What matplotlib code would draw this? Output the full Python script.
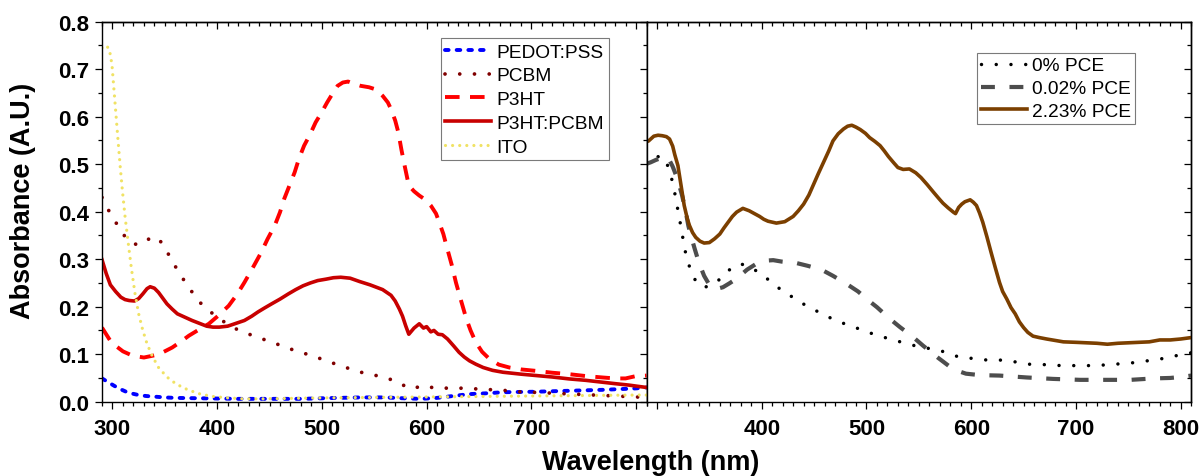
import matplotlib
matplotlib.use("Agg")
import matplotlib.pyplot as plt
from matplotlib.ticker import MultipleLocator, FuncFormatter

plt.rcParams['font.family'] = ['Liberation Sans', 'DejaVu Sans']
plt.rcParams['font.weight'] = 'bold'
plt.rcParams['lines.scale_dashes'] = False

# ---------------- Left panel: individual layers ----------------
pedot_wl = [290, 296, 302, 308, 313, 319, 325, 332, 338, 350, 360, 375, 390, 405, 420,
            440, 460, 480, 505, 537, 560, 580, 595, 610, 625, 641, 660, 673, 704, 736,
            768, 790, 800, 810]
pedot_abs = [0.049, 0.041, 0.033, 0.026, 0.021, 0.017, 0.014, 0.012, 0.011, 0.009, 0.008,
             0.0075, 0.007, 0.0065, 0.006, 0.006, 0.006, 0.006, 0.0075, 0.009, 0.009, 0.007,
             0.006, 0.008, 0.012, 0.016, 0.018, 0.020, 0.021, 0.023, 0.025, 0.027, 0.028, 0.030]

pcbm_wl = [290, 297, 305, 313, 319, 326, 332, 338, 343, 348, 356, 364, 373, 383, 393, 404,
           414, 428, 442, 454, 467, 480, 493, 507, 520, 533, 539, 552, 563, 575, 581, 586,
           592, 598, 605, 611, 625, 639, 655, 673, 687, 700, 720, 740, 760, 780, 800, 810]
pcbm_abs = [0.430, 0.400, 0.371, 0.344, 0.333, 0.330, 0.338, 0.348, 0.343, 0.333, 0.300,
            0.270, 0.240, 0.210, 0.190, 0.172, 0.157, 0.144, 0.133, 0.124, 0.113, 0.104,
            0.095, 0.084, 0.074, 0.065, 0.061, 0.055, 0.049, 0.039, 0.030, 0.027, 0.031,
            0.034, 0.030, 0.028, 0.029, 0.028, 0.026, 0.024, 0.021, 0.020, 0.018, 0.016,
            0.014, 0.012, 0.010, 0.009]

p3ht_wl = [290, 298, 304, 310, 319, 330, 341, 349, 357, 365, 373, 382, 392, 401, 411, 419,
           426, 434, 442, 448, 455, 460, 464, 469, 474, 478, 483, 489, 494, 500, 505, 510,
           515, 520, 525, 531, 537, 545, 552, 558, 563, 566, 570, 573, 576, 579, 583, 588,
           593, 599, 604, 609, 612, 616, 619, 624, 628, 633, 638, 642, 647, 653, 660, 669,
           679, 690, 704, 720, 736, 752, 768, 780, 790, 800, 810]
p3ht_abs = [0.156, 0.128, 0.116, 0.106, 0.097, 0.093, 0.098, 0.105, 0.114, 0.126, 0.139,
            0.151, 0.164, 0.181, 0.202, 0.226, 0.251, 0.282, 0.314, 0.342, 0.371, 0.399,
            0.427, 0.455, 0.483, 0.511, 0.539, 0.564, 0.588, 0.610, 0.630, 0.648, 0.665,
            0.672, 0.674, 0.669, 0.665, 0.662, 0.657, 0.644, 0.630, 0.616, 0.592, 0.567,
            0.530, 0.497, 0.455, 0.443, 0.434, 0.425, 0.413, 0.396, 0.378, 0.353, 0.328,
            0.288, 0.251, 0.212, 0.174, 0.150, 0.125, 0.105, 0.090, 0.078, 0.072, 0.068,
            0.065, 0.061, 0.058, 0.054, 0.051, 0.049, 0.049, 0.054, 0.055]

blend_wl = [290, 294, 298, 303, 308, 312, 316, 321, 325, 329, 333, 336, 340, 344, 348, 352,
            357, 362, 369, 376, 383, 390, 396, 402, 410, 418, 426, 433, 439, 445, 452, 460,
            468, 475, 482, 489, 496, 504, 511, 518, 527, 536, 546, 558, 566, 570, 574, 577,
            580, 583, 588, 593, 597, 600, 604, 607, 611, 615, 620, 626, 631, 636, 641, 647,
            654, 663, 673, 690, 705, 720, 736, 752, 768, 780, 793, 803, 810]
blend_abs = [0.299, 0.270, 0.246, 0.232, 0.220, 0.215, 0.213, 0.212, 0.217, 0.227, 0.238,
             0.242, 0.239, 0.230, 0.218, 0.206, 0.195, 0.185, 0.178, 0.171, 0.165, 0.159,
             0.157, 0.157, 0.159, 0.165, 0.171, 0.180, 0.189, 0.197, 0.206, 0.216, 0.227,
             0.236, 0.244, 0.250, 0.255, 0.258, 0.261, 0.262, 0.260, 0.253, 0.246, 0.236,
             0.224, 0.212, 0.195, 0.180, 0.160, 0.142, 0.155, 0.164, 0.155, 0.158, 0.147,
             0.150, 0.142, 0.141, 0.132, 0.117, 0.104, 0.094, 0.086, 0.079, 0.072, 0.066,
             0.062, 0.058, 0.055, 0.052, 0.048, 0.045, 0.041, 0.038, 0.035, 0.032, 0.030]

ito_wl = [290, 294, 297, 299.5, 301.5, 303.5, 305.5, 307.5, 309.5, 312, 315, 318, 321.5,
          325, 329, 333, 338, 344, 352, 361, 372, 384, 396, 410, 426, 442, 470, 500, 550,
          600, 650, 700, 750, 800, 810]
ito_abs = [0.745, 0.750, 0.742, 0.710, 0.655, 0.600, 0.545, 0.492, 0.444, 0.390, 0.335,
           0.282, 0.228, 0.185, 0.150, 0.122, 0.096, 0.072, 0.052, 0.037, 0.025, 0.016,
           0.011, 0.008, 0.006, 0.006, 0.007, 0.008, 0.009, 0.010, 0.011, 0.012, 0.013,
           0.014, 0.014]

# ---------------- Right panel: devices by efficiency ----------------
pce0_wl = [289, 296, 303, 308, 312, 316, 319, 322, 325, 328, 333, 338, 342, 348, 354, 360,
           365, 372, 378, 385, 393, 402, 413, 426, 437, 448, 461, 474, 486, 498, 511, 526,
           540, 554, 569, 582, 591, 602, 613, 626, 639, 654, 670, 686, 699, 712, 725, 737,
           751, 764, 776, 790, 800, 810]
pce0_abs = [0.500, 0.510, 0.518, 0.508, 0.488, 0.451, 0.415, 0.379, 0.341, 0.305, 0.271,
            0.250, 0.242, 0.242, 0.247, 0.258, 0.271, 0.282, 0.290, 0.288, 0.278, 0.265,
            0.244, 0.225, 0.209, 0.196, 0.181, 0.168, 0.159, 0.149, 0.139, 0.130, 0.121,
            0.114, 0.109, 0.098, 0.093, 0.091, 0.088, 0.088, 0.085, 0.079, 0.078, 0.076,
            0.076, 0.076, 0.077, 0.079, 0.081, 0.085, 0.088, 0.094, 0.099, 0.103]

pce002_wl = [289, 294, 299, 304, 309, 312, 315, 318, 321, 324, 327, 330, 333, 336, 340, 345,
             350, 354, 358, 363, 369, 376, 386, 396, 404, 411, 419, 433, 444, 457, 468, 481,
             492, 502, 510, 522, 532, 544, 554, 568, 583, 595, 608, 627, 653, 678, 704, 730,
             752, 774, 790, 800, 810]
pce002_abs = [0.500, 0.504, 0.509, 0.513, 0.516, 0.508, 0.495, 0.478, 0.458, 0.434, 0.405,
              0.370, 0.345, 0.322, 0.293, 0.265, 0.246, 0.238, 0.238, 0.241, 0.249, 0.259,
              0.278, 0.292, 0.297, 0.298, 0.295, 0.292, 0.286, 0.278, 0.265, 0.248, 0.232,
              0.213, 0.199, 0.175, 0.157, 0.137, 0.118, 0.093, 0.068, 0.059, 0.056, 0.055,
              0.051, 0.048, 0.046, 0.046, 0.046, 0.049, 0.050, 0.052, 0.055]

pce223_wl = [289, 292, 297, 301, 305, 309, 312, 315, 317, 320, 323, 326, 329, 331, 334, 337,
             341, 345, 350, 355, 360, 364, 368, 372, 376, 382, 388, 393, 398, 402, 406, 414,
             422, 430, 435, 440, 445, 449, 454, 459, 464, 468, 473, 478, 482, 486, 490, 494,
             499, 503, 508, 513, 517, 521, 526, 530, 535, 541, 547, 552, 558, 564, 569, 573,
             578, 583, 585, 588, 591, 594, 599, 602, 605, 608, 611, 615, 619, 623, 627, 630,
             634, 638, 642, 646, 650, 654, 659, 665, 672, 680, 688, 700, 710, 720, 730, 740,
             750, 760, 770, 780, 790, 800, 810]
pce223_abs = [0.546, 0.549, 0.559, 0.561, 0.560, 0.558, 0.553, 0.538, 0.520, 0.497, 0.455,
              0.413, 0.385, 0.371, 0.356, 0.346, 0.338, 0.334, 0.335, 0.343, 0.353, 0.366,
              0.378, 0.390, 0.399, 0.407, 0.402, 0.396, 0.390, 0.384, 0.380, 0.376, 0.379,
              0.390, 0.402, 0.416, 0.435, 0.455, 0.480, 0.504, 0.528, 0.549, 0.564, 0.574,
              0.580, 0.582, 0.578, 0.573, 0.565, 0.556, 0.548, 0.539, 0.528, 0.516, 0.503,
              0.493, 0.489, 0.490, 0.482, 0.472, 0.457, 0.441, 0.428, 0.418, 0.408, 0.399,
              0.396, 0.409, 0.416, 0.421, 0.425, 0.420, 0.413, 0.397, 0.378, 0.347, 0.314,
              0.282, 0.251, 0.232, 0.216, 0.198, 0.185, 0.168, 0.156, 0.146, 0.138, 0.135,
              0.132, 0.129, 0.126, 0.125, 0.124, 0.123, 0.121, 0.123, 0.124, 0.125, 0.126,
              0.130, 0.130, 0.132, 0.135]

x_range = (290, 810)
y_range = (0.0, 0.8)

W, H = 1202, 477
fig = plt.figure(figsize=(W / 100, H / 100), dpi=100)
ax_bottom = (H - 402.7) / H
ax_height = 380 / H
axL = fig.add_axes([102 / W, ax_bottom, 544.5 / W, ax_height])
axR = fig.add_axes([646.5 / W, ax_bottom, 544.7 / W, ax_height])

axL.plot(pedot_wl, pedot_abs, color='#0000FF', lw=2.8, linestyle=(0, (2.6, 5.8)),
         dash_capstyle='round', label='PEDOT:PSS')
axL.plot(pcbm_wl, pcbm_abs, color='#800000', lw=2.7, linestyle=(0, (0.01, 10.6)),
         dash_capstyle='round', label='PCBM')
axL.plot(p3ht_wl, p3ht_abs, color='#FF0000', lw=2.8, linestyle=(0, (10.5, 7.5)),
         dash_capstyle='butt', label='P3HT')
axL.plot(blend_wl, blend_abs, color='#C80000', lw=2.6, solid_joinstyle='round',
         label='P3HT:PCBM')
axL.plot(ito_wl, ito_abs, color='#F0E264', lw=2.3, linestyle=(0, (0.01, 5.1)),
         dash_capstyle='round', label='ITO')

axR.plot(pce0_wl, pce0_abs, color='black', lw=2.5, linestyle=(0, (0.01, 10.6)),
         dash_capstyle='round', label='0% PCE')
axR.plot(pce002_wl, pce002_abs, color='#4D4D4D', lw=3.0, linestyle=(0, (10, 10.5)),
         dash_capstyle='butt', label='0.02% PCE')
axR.plot(pce223_wl, pce223_abs, color='#7B3F00', lw=2.6, solid_joinstyle='round',
         label='2.23% PCE')


def hide_label(value_to_hide):
    def fmt(v, pos):
        if abs(v - value_to_hide) < 1e-6:
            return ''
        return f'{v:.0f}'
    return FuncFormatter(fmt)


tick_font = 16
for ax, hidden in ((axL, 800), (axR, 300)):
    ax.set_xlim(*x_range)
    ax.set_ylim(*y_range)
    ax.xaxis.set_major_locator(MultipleLocator(100))
    ax.xaxis.set_minor_locator(MultipleLocator(10))
    ax.xaxis.set_major_formatter(hide_label(hidden))
    ax.yaxis.set_major_locator(MultipleLocator(0.1))
    ax.yaxis.set_minor_locator(MultipleLocator(0.05))
    ax.tick_params(axis='x', which='both', direction='out', top=False, bottom=True,
                   labelsize=tick_font, width=0.9, pad=7)
    ax.tick_params(axis='x', which='major', length=5)
    ax.tick_params(axis='x', which='minor', length=3)
    for sp in ax.spines.values():
        sp.set_linewidth(1.0)

    # inward ticks along the top edge
    top = ax.secondary_xaxis('top')
    top.xaxis.set_major_locator(MultipleLocator(100))
    top.xaxis.set_minor_locator(MultipleLocator(10))
    top.tick_params(axis='x', which='both', direction='in', labeltop=False, width=0.9)
    top.tick_params(axis='x', which='major', length=5)
    top.tick_params(axis='x', which='minor', length=3)
    top.spines['top'].set_linewidth(1.0)

    # inward ticks along the right edge
    right = ax.secondary_yaxis('right')
    right.yaxis.set_major_locator(MultipleLocator(0.1))
    right.yaxis.set_minor_locator(MultipleLocator(0.05))
    right.tick_params(axis='y', which='both', direction='in', labelright=False, width=0.9)
    right.tick_params(axis='y', which='major', length=5)
    right.tick_params(axis='y', which='minor', length=3)
    right.spines['right'].set_linewidth(1.0)

axL.yaxis.set_major_formatter(FuncFormatter(lambda v, p: f'{v:.1f}'))
axL.tick_params(axis='y', which='both', direction='out', left=True, right=False,
                labelsize=tick_font, width=0.9, pad=4)
axL.tick_params(axis='y', which='major', length=5)
axL.tick_params(axis='y', which='minor', length=3)
axR.tick_params(axis='y', which='both', left=False, right=False, labelleft=False)

legend_font = {'family': ['Liberation Sans', 'DejaVu Sans'], 'weight': 'normal', 'size': 13.8}
legL = axL.legend(loc='upper left', bbox_to_anchor=(0.622, 0.956), prop=legend_font,
                  frameon=True, fancybox=False, edgecolor='#7a7a7a', framealpha=1,
                  borderpad=0.25, labelspacing=0.33, handlelength=2.4, handletextpad=0.25,
                  borderaxespad=0)
legL.get_frame().set_linewidth(0.8)
legR = axR.legend(loc='upper left', bbox_to_anchor=(0.606, 0.918), prop=legend_font,
                  frameon=True, fancybox=False, edgecolor='#7a7a7a', framealpha=1,
                  borderpad=0.22, labelspacing=0.28, handlelength=2.4, handletextpad=0.25,
                  borderaxespad=0)
legR.get_frame().set_linewidth(0.8)

fig.text(650.5 / W, 7 / H, 'Wavelength (nm)', ha='center', va='baseline',
         fontsize=19.5, fontweight='bold')
fig.text(23 / W, (H - 201) / H, 'Absorbance (A.U.)', rotation=90, ha='center',
         va='center', fontsize=19.5, fontweight='bold')

fig.savefig('out.png', dpi=100)
